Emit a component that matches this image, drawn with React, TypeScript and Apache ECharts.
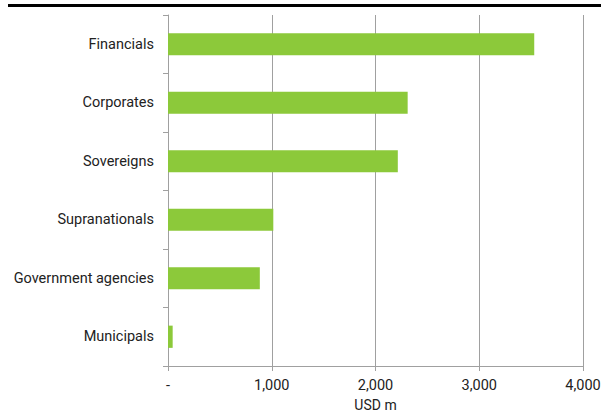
import React, { useEffect, useRef } from "react";
import * as echarts from "echarts";

const categories = ["Financials", "Corporates", "Sovereigns", "Supranationals", "Government agencies", "Municipals"];
const values = [3530, 2310, 2215, 1015, 885, 45];
const xTicks = [0, 1000, 2000, 3000, 4000];

export default function App() {
  const ref = useRef<HTMLDivElement>(null);
  useEffect(() => {
    const chart = echarts.init(ref.current!, null, { renderer: "svg" });
    const font = "Roboto, 'Noto Sans', sans-serif";
    chart.setOption({
      animation: false,
      textStyle: { fontFamily: font },
      grid: { left: 168, right: 18, top: 15, bottom: 48, outerBoundsMode: "none", containLabel: false },
      graphic: [
        { type: "rect", shape: { x: 8, y: 4, width: 593, height: 3 }, style: { fill: "#000" } },
      ],
      xAxis: {
        type: "value",
        min: xTicks[0],
        max: xTicks[xTicks.length - 1],
        interval: 1000,
        axisLine: { show: true, lineStyle: { color: "#a0a0a0", width: 1 } },
        axisTick: { show: true, length: 5, lineStyle: { color: "#a0a0a0" } },
        splitLine: { show: true, lineStyle: { color: "#a0a0a0", width: 1 } },
        axisLabel: {
          color: "#222",
          fontSize: 14.5,
          margin: 12,
          fontFamily: font,
          formatter: (v: number) => (v === 0 ? "-" : v.toLocaleString("en-US")),
        },
        name: "USD m",
        nameLocation: "middle",
        nameGap: 30,
        nameTextStyle: { color: "#222", fontSize: 14, fontFamily: font },
      },
      yAxis: {
        type: "category",
        inverse: true,
        data: categories,
        axisLine: { show: true, lineStyle: { color: "#a0a0a0", width: 1 } },
        axisTick: { show: true, length: 5, lineStyle: { color: "#a0a0a0" } },
        axisLabel: { color: "#222", fontSize: 14.5, margin: 14, fontFamily: font },
      },
      series: [
        {
          type: "bar",
          data: values,
          barWidth: "38%",
          itemStyle: { color: "#8cc93a" },
        },
      ],
    });
    return () => chart.dispose();
  }, []);
  return (
    <div
      ref={ref}
      style={{ position: "fixed", left: 0, top: 0, width: 601, height: 414, background: "#fff" }}
    />
  );
}
